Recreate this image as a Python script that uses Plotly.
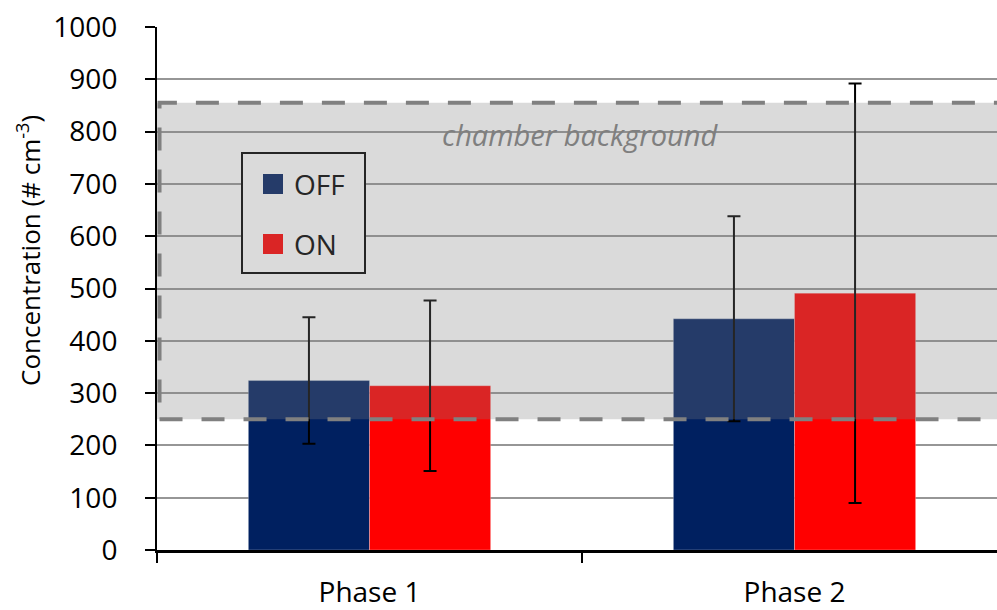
import plotly.graph_objects as go

phases = ["Phase 1", "Phase 2"]
off_vals = [324, 442]
on_vals = [314, 491]
off_err = [121, 196]
on_err = [163, 401]
series_names = ["OFF", "ON"]
bg_low, bg_high = 250, 855
y_ticks = list(range(0, 1001, 100))

NAVY = "#002060"
RED = "#FF0000"
FONT = "Open Sans"

fig = go.Figure()
for name, vals, errs, col in [(series_names[0], off_vals, off_err, NAVY),
                              (series_names[1], on_vals, on_err, RED)]:
    fig.add_trace(go.Bar(
        x=phases, y=vals, name=name,
        marker=dict(color=col, line=dict(color="rgba(255,255,255,0.35)", width=0.8)),
        error_y=dict(type="data", array=errs, visible=True, color="black",
                     thickness=2, width=6.5),
        showlegend=False,
    ))

# pixel -> paper helpers (plot area 157..997 x 27..550)
L, R, T, B = 157, 997, 27, 550
def px(x):
    return (x - L) / (R - L)
def py(y):
    return (B - y) / (B - T)

shapes = []
# manual legend (drawn beneath the translucent overlay)
shapes.append(dict(type="rect", xref="paper", yref="paper",
                   x0=px(242), x1=px(365), y0=py(273), y1=py(153),
                   fillcolor="white", line=dict(color="black", width=2), layer="above"))
shapes.append(dict(type="rect", xref="paper", yref="paper",
                   x0=px(263), x1=px(283), y0=py(194), y1=py(174),
                   fillcolor=NAVY, line=dict(width=0), layer="above"))
shapes.append(dict(type="rect", xref="paper", yref="paper",
                   x0=px(263), x1=px(283), y0=py(254), y1=py(234),
                   fillcolor=RED, line=dict(width=0), layer="above"))
# translucent chamber-background band
shapes.append(dict(type="rect", xref="paper", yref="y",
                   x0=0, x1=1.05, y0=bg_low, y1=bg_high,
                   fillcolor="#808080", opacity=0.29, line=dict(width=0), layer="above"))
# dashed outline
shapes.append(dict(type="rect", xref="paper", yref="y",
                   x0=0.003, x1=1.05, y0=bg_low, y1=bg_high,
                   fillcolor="rgba(0,0,0,0)",
                   line=dict(color="#808080", width=4, dash="23px,19px"), layer="above"))

annotations = [
    dict(text=series_names[0], xref="paper", yref="paper", x=px(292), y=py(184),
         xanchor="left", yanchor="middle", showarrow=False,
         font=dict(family=FONT, size=28, color="#262626")),
    dict(text=series_names[1], xref="paper", yref="paper", x=px(292), y=py(244),
         xanchor="left", yanchor="middle", showarrow=False,
         font=dict(family=FONT, size=28, color="#262626")),
    dict(text="<i>chamber background</i>", xref="paper", yref="y", x=px(580), y=795,
         xanchor="center", yanchor="middle", showarrow=False,
         font=dict(family=FONT, size=29, color="#7F7F7F")),
    dict(text="Concentration (# cm<sup>-3</sup>)", xref="paper", yref="paper",
         x=px(29), y=py(251), xanchor="center", yanchor="middle", textangle=-90,
         showarrow=False, font=dict(family=FONT, size=26, color="black")),
]

fig.update_layout(
    width=997, height=610,
    margin=dict(l=L, r=997 - R, t=T, b=610 - B, autoexpand=False),
    paper_bgcolor="white", plot_bgcolor="white",
    barmode="group", bargap=0.43, bargroupgap=0,
    shapes=shapes, annotations=annotations,
    font=dict(family=FONT, size=28, color="black"),
)
fig.update_xaxes(
    type="category", categoryorder="array", categoryarray=phases,
    range=[-0.5, 1.5 - 10 / 425], tickson="boundaries",
    showline=True, linecolor="black", linewidth=2.5,
    ticks="outside", ticklen=10, tickwidth=2, tickcolor="black",
    showgrid=False, ticklabelstandoff=16, automargin=False,
    tickfont=dict(family=FONT, size=28, color="black"),
)
fig.update_yaxes(
    range=[0, 1000], tickvals=y_ticks,
    showline=True, linecolor="black", linewidth=2,
    ticks="outside", ticklen=10, tickwidth=2, tickcolor="black",
    showgrid=True, gridcolor="#969696", gridwidth=1.5, zeroline=False,
    ticklabelstandoff=22, automargin=False,
    tickfont=dict(family=FONT, size=28, color="black"),
)

fig.write_html("out.html")
